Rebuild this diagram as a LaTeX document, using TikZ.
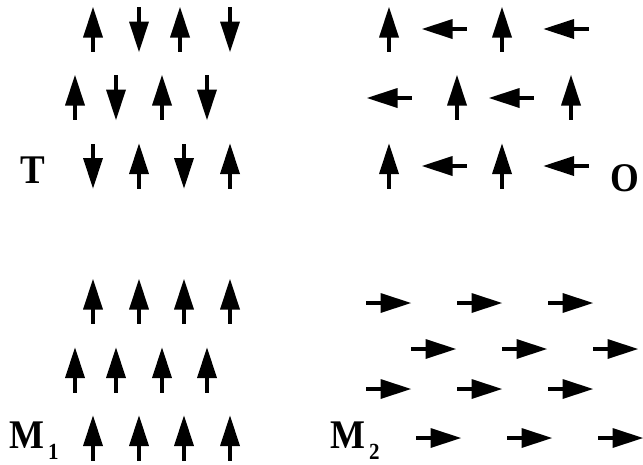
\documentclass[tikz,border=0pt]{standalone}
\usepackage{fontspec}
\setmainfont{Liberation Serif}
\begin{document}
\begin{tikzpicture}[x=1pt,y=-1pt,
  spinup/.pic={\fill (-2.4,22.5) rectangle (2.4,7.5); \fill (-10,8) -- (10,8) -- (0,-22.5) -- cycle;},
  spindown/.pic={\fill (-2.4,-22.5) rectangle (2.4,-7.5); \fill (-10,-8) -- (10,-8) -- (0,22.5) -- cycle;},
  spinleft/.pic={\fill (22.5,-2.4) rectangle (7.5,2.4); \fill (8,-10) -- (8,10) -- (-22.5,0) -- cycle;},
  spinright/.pic={\fill (-22.5,-2.4) rectangle (-7.5,2.4); \fill (-8,-10) -- (-8,10) -- (22.5,0) -- cycle;},
  lbl/.style={anchor=base west,inner sep=0pt,font=\fontsize{37}{37}\selectfont\bfseries},
  sub/.style={anchor=base west,inner sep=0pt,font=\fontsize{21}{21}\selectfont\bfseries}]
\useasboundingbox (0,0) rectangle (643,464);
% T panel
\pic at (93,29.5) {spinup};   \pic at (139,29.5) {spindown};
\pic at (180,29.5) {spinup};  \pic at (230,29.5) {spindown};
\pic at (75,97.5) {spinup};   \pic at (116,97.5) {spindown};
\pic at (162,97.5) {spinup};  \pic at (207,97.5) {spindown};
\pic at (93,166) {spindown};  \pic at (139,166) {spinup};
\pic at (184,166) {spindown}; \pic at (230,166) {spinup};
\node[lbl] (T) at (20,183) {\scalebox{1}[1.1]{T}};
% O panel
\pic at (389,29.5) {spinup};  \pic at (444.5,29) {spinleft};
\pic at (502,29.5) {spinup};  \pic at (566,29) {spinleft};
\pic at (389.5,98) {spinleft}; \pic at (457,97.5) {spinup};
\pic at (511.5,98) {spinleft}; \pic at (571,97.5) {spinup};
\pic at (389,166) {spinup};   \pic at (444.5,166) {spinleft};
\pic at (502,166) {spinup};   \pic at (566,166) {spinleft};
\node[lbl] (O) at (610,191) {\scalebox{1}[1.1]{O}};
% M1 panel
\foreach \x in {93,139,184,230} {\pic at (\x,301.5) {spinup}; \pic at (\x,438) {spinup};}
\foreach \x in {75,116,162,207} {\pic at (\x,370) {spinup};}
\node[lbl] (M1) at (9,448) {\scalebox{1}[1.1]{M}};
\node[sub] (M1s) at (48,459) {\scalebox{1}[1.1]{1}};
% M2 panel
\foreach \x in {388.5,479.5,570.5} {\pic at (\x,303) {spinright}; \pic at (\x,389) {spinright};}
\foreach \x in {433.5,524.5,615.5} {\pic at (\x,349) {spinright};}
\foreach \x in {438.5,529.5,620.5} {\pic at (\x,438) {spinright};}
\node[lbl] (M2) at (330,448) {\scalebox{1}[1.1]{M}};
\node[sub] (M2s) at (369,459) {\scalebox{1}[1.1]{2}};
\end{tikzpicture}
\end{document}
